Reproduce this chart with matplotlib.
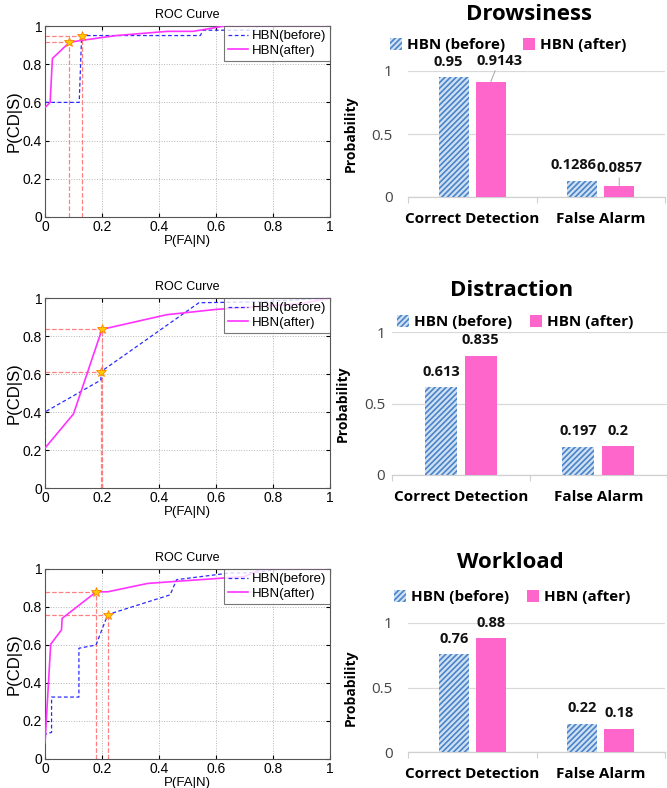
import numpy as np
import matplotlib.pyplot as plt
from matplotlib.patches import Patch

# 1. Data

panel_names = ["Drowsiness", "Distraction", "Workload"]
bar_categories = ["Correct Detection", "False Alarm"]

# operating point of each detector: [P(CD|S), P(FA|N)]
before_values = [[0.95, 0.1286], [0.613, 0.197], [0.76, 0.22]]
after_values = [[0.9143, 0.0857], [0.835, 0.2], [0.88, 0.18]]

# ROC curves (x = P(FA|N), y = P(CD|S))
drowsy_before_fa = [0, 0.12, 0.1286, 0.545, 0.555, 0.74, 0.745, 1.0]
drowsy_before_cd = [0.6, 0.6, 0.95, 0.95, 0.978, 0.978, 1.0, 1.0]
drowsy_after_fa = [0, 0.018, 0.026, 0.0857, 0.13, 0.25, 0.43, 0.52, 0.63, 1.0]
drowsy_after_cd = [0.573, 0.6, 0.83, 0.9143, 0.925, 0.95, 0.972, 0.972, 1.0, 1.0]

distract_before_fa = [0, 0, 0.196, 0.197, 0.54, 0.75, 1.0]
distract_before_cd = [0.21, 0.4, 0.568, 0.613, 0.975, 0.98, 1.0]
distract_after_fa = [0, 0.1, 0.2, 0.427, 0.6, 0.9, 1.0]
distract_after_cd = [0.21, 0.39, 0.835, 0.912, 0.94, 0.97, 1.0]

workload_before_fa = [0, 0, 0.023, 0.023, 0.119, 0.119, 0.179, 0.22, 0.439, 0.462, 0.649, 0.72, 0.83, 1.0]
workload_before_cd = [0.088, 0.13, 0.14, 0.326, 0.326, 0.583, 0.6, 0.76, 0.864, 0.944, 0.979, 0.98, 1.0, 1.0]
workload_after_fa = [0, 0.02, 0.058, 0.06, 0.18, 0.22, 0.36, 0.46, 0.7, 0.76, 1.0]
workload_after_cd = [0.085, 0.604, 0.68, 0.74, 0.88, 0.88, 0.924, 0.935, 0.96, 1.0, 1.0]

roc_before = [(drowsy_before_fa, drowsy_before_cd),
              (distract_before_fa, distract_before_cd),
              (workload_before_fa, workload_before_cd)]
roc_after = [(drowsy_after_fa, drowsy_after_cd),
             (distract_after_fa, distract_after_cd),
             (workload_after_fa, workload_after_cd)]

roc_ticks = [0, 0.2, 0.4, 0.6, 0.8, 1]
roc_tick_labels = ["0", "0.2", "0.4", "0.6", "0.8", "1"]
bar_ticks = [0, 0.5, 1]
bar_tick_labels = ["0", "0.5", "1"]

# 2. Layout (pixel boxes on a 667x788 canvas)
W, H = 667, 788
roc_boxes = [(45, 26, 330, 217), (45, 298, 330, 488), (45, 569, 330, 759)]
bar_boxes = [(408, 71, 665, 197), (392, 332, 667, 475), (408, 623, 665, 752)]
title_pos = [(529, 15), (512, 290), (510, 562)]
legend_pos = [(508, 45), (515, 322), (512, 597)]
ylabel_x = [-0.195, -0.153, -0.195]
ytick_pad = [11, 5, 11]

blue_line = '#2a2aff'
pink_line = '#ff33ff'
guide_red = '#ff8080'
hatch_face = '#cfe0f3'
hatch_blue = '#4a84c8'
pink_bar = '#ff66cc'
bar_font = 'Open Sans'

plt.rcParams['font.family'] = ['Liberation Sans', 'DejaVu Sans']
plt.rcParams['hatch.linewidth'] = 1.2

fig = plt.figure(figsize=(6.67, 7.88), dpi=100)


def px_axes(box):
    left, top, right, bottom = box
    return fig.add_axes([left / W, 1 - bottom / H, (right - left) / W, (bottom - top) / H])


# 3. ROC panels (left column)
for i in range(3):
    ax = px_axes(roc_boxes[i])
    fa_b, cd_b = before_values[i][1], before_values[i][0]
    fa_a, cd_a = after_values[i][1], after_values[i][0]

    # dashed guides to the chosen operating points
    for fa, cd in [(fa_b, cd_b), (fa_a, cd_a)]:
        ax.plot([0, fa], [cd, cd], '--', color=guide_red, lw=0.9, zorder=2)
        ax.plot([fa, fa], [0, cd], '--', color=guide_red, lw=0.9, zorder=2)

    ax.plot(roc_before[i][0], roc_before[i][1], '--', color=blue_line, lw=0.9,
            dashes=(3, 2), label='HBN(before)', zorder=3)
    ax.plot(roc_after[i][0], roc_after[i][1], '-', color=pink_line, lw=1.2,
            label='HBN(after)', zorder=3)
    ax.plot([fa_b, fa_a], [cd_b, cd_a], '*', ms=7, mfc='#ffcc00', mec='#ff8000',
            mew=0.6, ls='none', zorder=5, clip_on=False)

    ax.set_xlim(0, 1)
    ax.set_ylim(0, 1)
    ax.set_xticks(roc_ticks)
    ax.set_xticklabels(roc_tick_labels)
    ax.set_yticks(roc_ticks)
    ax.set_yticklabels(roc_tick_labels)
    ax.tick_params(direction='in', length=3, labelsize=10, pad=2, top=True, right=True)
    ax.grid(True, linestyle=':', color='#b5b5b5', lw=0.7)
    for s in ax.spines.values():
        s.set_color('#555555')
        s.set_linewidth(0.8)
    ax.set_title('ROC Curve', fontsize=9, pad=6)
    ax.set_xlabel('P(FA|N)', fontsize=9.5, labelpad=1)
    ax.set_ylabel('P(CD|S)', fontsize=12, labelpad=1)
    leg = ax.legend(loc='upper right', borderaxespad=0, fontsize=9.5, handlelength=1.5,
                    handletextpad=0.3, borderpad=0.3, labelspacing=0.2, fancybox=False)
    leg.get_frame().set_edgecolor('#555555')
    leg.get_frame().set_linewidth(0.8)

# 4. Bar panels (right column)
x = np.arange(len(bar_categories))
offset = 0.144
width = 0.233
label_font = dict(family=bar_font, weight='bold', size=10.5, color='#111111')

for i in range(3):
    ax = px_axes(bar_boxes[i])
    ax.bar(x - offset, before_values[i], width, facecolor=hatch_face, edgecolor=hatch_blue,
           hatch='//////', lw=0, zorder=3)
    ax.bar(x + offset, after_values[i], width, color=pink_bar, lw=0, zorder=3)

    for j in range(len(bar_categories)):
        vb = before_values[i][j]
        va_ = after_values[i][j]
        if i == 0:
            # labels nudged apart in the drowsiness chart, with leader lines
            nudge_b = [(-4, 6), (-6, 6)][j]
            nudge_a = [(6, 10), (0, 8)][j]
            ax.annotate(f"{vb:g}", (x[j] - offset, vb), xytext=nudge_b,
                        textcoords='offset points', ha='center', va='bottom', **label_font)
            ax.annotate(f"{va_:g}", (x[j] + offset, va_), xytext=nudge_a,
                        textcoords='offset points', ha='center', va='bottom', **label_font,
                        arrowprops=dict(arrowstyle='-', color='#a6a6a6', lw=0.7,
                                        shrinkA=0, shrinkB=0))
        else:
            ax.annotate(f"{vb:g}", (x[j] - offset, vb), xytext=(0, 6),
                        textcoords='offset points', ha='center', va='bottom', **label_font)
            ax.annotate(f"{va_:g}", (x[j] + offset, va_), xytext=(0, 6),
                        textcoords='offset points', ha='center', va='bottom', **label_font)

    ax.set_xlim(-0.5, 1.5)
    ax.set_ylim(0, 1)
    ax.set_yticks(bar_ticks)
    ax.set_yticklabels(bar_tick_labels)
    ax.set_xticks(x)
    ax.set_xticklabels(bar_categories, fontdict=dict(family=bar_font, weight='bold', size=11))
    ax.set_xticks([-0.5, 0.5, 1.5], minor=True)
    ax.tick_params(axis='x', which='major', length=0, pad=11)
    ax.tick_params(axis='x', which='minor', length=4, color='#d0d0d0', width=0.8)
    ax.tick_params(axis='y', length=0, pad=ytick_pad[i], labelsize=11, labelcolor='#444444')
    for lab in ax.get_yticklabels():
        lab.set_family(bar_font)
    ax.yaxis.grid(True, color='#d9d9d9', lw=0.9, zorder=0)
    for side in ['top', 'right', 'left']:
        ax.spines[side].set_visible(False)
    ax.spines['bottom'].set_color('#d0d0d0')
    ax.spines['bottom'].set_linewidth(0.9)
    ax.set_ylabel('Probability', fontdict=dict(family=bar_font, weight='bold', size=10))
    ax.yaxis.set_label_coords(ylabel_x[i], 0.5)

    tx, ty = title_pos[i]
    fig.text(tx / W, 1 - ty / H, panel_names[i], ha='center', va='center',
             family=bar_font, weight='bold', size=16)

    handles = [Patch(facecolor=hatch_face, edgecolor=hatch_blue, hatch='//////', lw=0),
               Patch(facecolor=pink_bar, lw=0)]
    lx, ly = legend_pos[i]
    fig.legend(handles, ['HBN (before)', 'HBN (after)'], loc='center',
               bbox_to_anchor=(lx / W, 1 - ly / H), ncol=2, frameon=False,
               prop=dict(family=bar_font, weight='bold', size=11),
               handlelength=0.8, handleheight=0.8, handletextpad=0.3, columnspacing=1.2)

fig.savefig('out.png', dpi=100)
